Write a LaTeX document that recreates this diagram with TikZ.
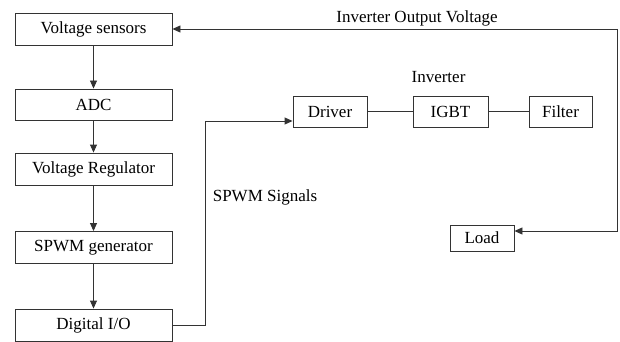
\documentclass[tikz,border=0pt]{standalone}
\usepackage{fontspec}
\setmainfont{Liberation Serif}
\usetikzlibrary{arrows.meta}
\newcommand*{\boxw}{157}
\newcommand*{\boxh}{32}

\begin{document}
\begin{tikzpicture}[x=1pt,y=-1pt,
    font=\fontsize{17}{20}\selectfont,
    block/.style={draw=black!80, line width=0.9pt, inner sep=0pt,
      minimum width=#1, minimum height=31},
    block/.default=\boxw,
    lbl/.style={inner sep=0pt},
    wire/.style={draw=black!80, line width=0.9pt},
    arr/.style={wire, -{Triangle[length=8pt,width=7pt]}}]
  \useasboundingbox (0,0) rectangle (620,342);
  % controller chain
  \node [block, minimum height=\boxh] (vs)  at (93.5,29)  {Voltage sensors};
  \node [block] (adc) at (93.5,104.5) {ADC};
  \node [block, minimum height=\boxh] (reg) at (93.5,169)  {Voltage Regulator};
  \node [block, minimum height=\boxh] (gen) at (93.5,247.5) {SPWM generator};
  \node [block, minimum height=\boxh] (dio) at (93.5,325)  {Digital I/O};
  \foreach \a/\b in {vs/adc, adc/reg, reg/gen, gen/dio}
    \draw [arr] (\a) -- (\b);
  % inverter
  \node [block=74] (drv)  at (330,111.5)   {Driver};
  \node [block=75] (igbt) at (450.5,111.5) {IGBT};
  \node [block=63] (filt) at (560.5,111.5) {Filter};
  \node [block=64, minimum height=26] (load) at (482,238) {Load};
  \draw [wire] (drv) -- (igbt) (igbt) -- (filt);
  \draw [arr] (dio.east) -- ++(33,0) |- ([yshift=-9.5]drv.west);
  % feedback
  \coordinate (fb) at (617,29);
  \draw [arr] (fb) -- (vs.east);
  \draw [arr] (fb) |- ([yshift=7]load.east);
  % labels
  \node [lbl] (outv) at (417,18)   {Inverter Output Voltage};
  \node [lbl] (inv)  at (438.5,77) {Inverter};
  \node [lbl] (sig)  at (265,197)  {SPWM Signals};
\end{tikzpicture}
\end{document}
